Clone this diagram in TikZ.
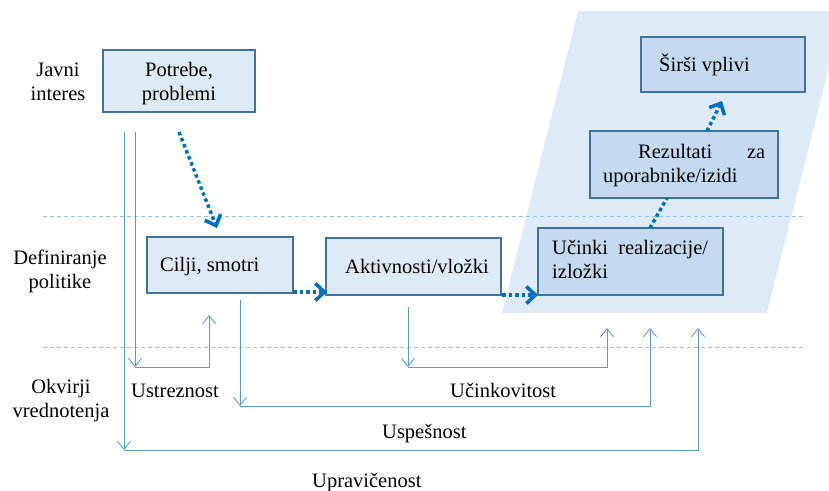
\documentclass[tikz,border=0pt]{standalone}
\usepackage{fontspec}
\setmainfont{Liberation Serif}
\usetikzlibrary{arrows.meta}
\definecolor{paracol}{HTML}{DEEAF6}
\definecolor{boxa}{HTML}{DEEAF6}
\definecolor{boxb}{HTML}{C5DAF0}
\definecolor{bordcol}{HTML}{41719C}
\definecolor{thincol}{HTML}{5B9BD5}
\definecolor{dashcol}{HTML}{9DC3E6}
\definecolor{dotcol}{HTML}{0070C0}
\begin{document}
\begin{tikzpicture}[x=1pt,y=-1pt,
  font=\fontsize{20.5}{23.5}\selectfont,
  boxstyle/.style={draw=bordcol,line width=1.3pt,inner sep=0pt,rectangle},
  lightbox/.style={boxstyle,fill=boxa},
  darkbox/.style={boxstyle,fill=boxb},
  txt/.style={inner sep=0pt,text=black},
  sepline/.style={draw=dashcol,line width=1pt,dash pattern=on 4pt off 3pt},
  thinarrow/.style={draw=thincol,line width=0.9pt,-{Straight Barb[length=8pt,width=13pt,line width=0.9pt]}},
  thinline/.style={draw=thincol,line width=0.9pt},
  dotline/.style={draw=dotcol,line width=3.5pt,dash pattern=on 3.5pt off 3pt},
  dotarrow/.style={dotline,-{Straight Barb[length=9pt,width=17pt,line width=3.6pt]}}
]
\useasboundingbox (0,0) rectangle (829,490);

% parallelogram background
\fill[paracol] (578,11) -- (843,11) -- (767,313) -- (502,313) -- cycle;

% separator lines
\draw[sepline] (43,216) -- (803,216);
\draw[sepline] (43,347) -- (803,347);

% boxes
\node[lightbox,minimum width=152pt,minimum height=62pt] (potrebe) at (179,81) {};
\node[lightbox,minimum width=146pt,minimum height=56pt] (cilji) at (220,265) {};
\node[lightbox,minimum width=175pt,minimum height=57pt] (aktiv) at (413.5,266.5) {};
\node[darkbox,minimum width=185pt,minimum height=67pt] (ucinki) at (630.5,261.5) {};
\node[darkbox,minimum width=188pt,minimum height=67pt] (rezult) at (684,164.5) {};
\node[darkbox,minimum width=164pt,minimum height=55pt] (sirsi) at (723,64.5) {};

% box texts (base anchor = baseline of last line)
\node[txt,anchor=base,align=center] (tpotrebe) at (179,100) {Potrebe,\\problemi};
\node[txt,anchor=base west] (tcilji) at (160,271) {Cilji, smotri};
\node[txt,anchor=base west] (taktiv) at (345,273) {Aktivnosti/vložki};
\node[txt,anchor=base west,align=left] (tucinki) at (552,278) {Učinki\ \ realizacije/\\izložki};
\node[txt,anchor=base west,text width=127pt] (trez1) at (638,158) {Rezultati\hfill za};
\node[txt,anchor=base west] (trez2) at (603,182) {uporabnike/izidi};
\node[txt,anchor=base west] (tsirsi) at (659,71) {Širši vplivi};

% left labels
\node[txt,anchor=base,align=center] (ljavni) at (58,100) {Javni\\interes};
\node[txt,anchor=base,align=center] (ldef) at (60,288) {Definiranje\\politike};
\node[txt,anchor=base,align=center] (lokv) at (61,417) {Okvirji\\vrednotenja};

% bottom labels
\node[txt,anchor=base west] (lustr) at (131,397) {Ustreznost};
\node[txt,anchor=base west] (lucink) at (450,397) {Učinkovitost};
\node[txt,anchor=base west] (lusp) at (382,438) {Uspešnost};
\node[txt,anchor=base west] (lupr) at (312,487) {Upravičenost};

% coordinates for thin connectors
\coordinate (a0) at (124,132); \coordinate (a1) at (124,450);
\coordinate (a2) at (698,450); \coordinate (a3) at (698,328);
\coordinate (b0) at (135,132); \coordinate (b1) at (135,367);
\coordinate (b2) at (209,367); \coordinate (b3) at (209,315);
\coordinate (c0) at (240,300); \coordinate (c1) at (240,406);
\coordinate (c2) at (650,406); \coordinate (c3) at (650,328);
\coordinate (e0) at (408,307); \coordinate (e1) at (408,367);
\coordinate (e2) at (607,367); \coordinate (e3) at (607,328);

\draw[thinarrow] (a0) -- (a1);
\draw[thinarrow] (a1) -- (a2) -- (a3);
\draw[thinarrow] (b0) -- (b1);
\draw[thinarrow] (b1) -- (b2) -- (b3);
\draw[thinarrow] (c0) -- (c1);
\draw[thinarrow] (c1) -- (c2) -- (c3);
\draw[thinarrow] (e0) -- (e1);
\draw[thinarrow] (e1) -- (e2) -- (e3);

% dotted flow arrows
\coordinate (d1s) at (179,132); \coordinate (d1e) at (217,228);
\coordinate (d2s) at (293,292); \coordinate (d2e) at (327,292);
\coordinate (d3s) at (502,295); \coordinate (d3e) at (538,295);
\coordinate (d4s) at (650,228); \coordinate (d4e) at (667,198);
\coordinate (d5s) at (707,131); \coordinate (d5e) at (722,101);
\draw[dotarrow] (d1s) -- (d1e);
\draw[dotarrow] (d2s) -- (d2e);
\draw[dotarrow] (d3s) -- (d3e);
\draw[dotline] (d4s) -- (d4e);
\draw[dotarrow] (d5s) -- (d5e);
\end{tikzpicture}
\end{document}
